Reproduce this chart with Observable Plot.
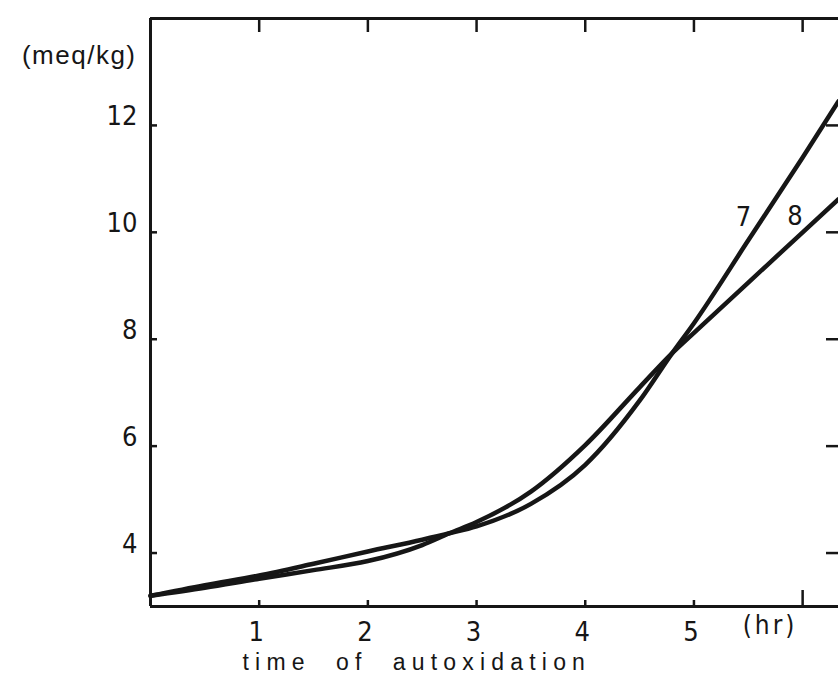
<!DOCTYPE html>
<html><head><meta charset="utf-8">
<script src="https://cdn.jsdelivr.net/npm/d3@7"></script>
<script src="https://cdn.jsdelivr.net/npm/@observablehq/plot@0.6"></script>
<style>
html,body{margin:0;padding:0;background:#fff;overflow:hidden;}
</style></head><body><div id="chart"></div>
<script>
// time of autoxidation (hr)
const hours   = [0, 0.5, 1, 1.5, 2, 2.5, 2.75, 3, 3.5, 4, 4.5, 4.8, 5, 5.5, 6, 6.33];
// curve 7 (meq/kg)
const curve7  = [3.2, 3.4, 3.58, 3.8, 4.03, 4.25, 4.37, 4.5, 4.92, 5.65, 6.85, 7.74, 8.3, 9.85, 11.4, 12.45];
// curve 8 (meq/kg)
const curve8  = [3.2, 3.35, 3.52, 3.68, 3.85, 4.15, 4.37, 4.58, 5.15, 6.02, 7.1, 7.74, 8.12, 9.06, 10.0, 10.62];
const seriesNames = ["7", "8"];
const seriesLabelX = [5.455, 5.93];
const seriesLabelY = [10.28, 10.3];

const xTicks = [1, 2, 3, 4, 5];
const xTickLabels = ["1", "2", "3", "4", "5"];
const topTicks = [1, 2, 3, 4, 5, 6];
const longTick = [6];
const yTicks = [4, 6, 8, 10, 12];
const yTickLabels = ["4", "6", "8", "10", "12"];
const xUnitLabel = "(hr)";
const xUnitLabelX = 5.7;
const yUnitLabel = "(meq/kg)";
const xTitle = "time  of  autoxidation";
const xTitleX = 2.45;

const rows = [];
hours.forEach((h, i) => {
  rows.push({series: "7", t: h, v: curve7[i]});
  rows.push({series: "8", t: h, v: curve8[i]});
});

const ink = "#161616";
const numFont = '"Liberation Sans Narrow","DejaVu Sans Condensed","Liberation Sans",sans-serif';
const txtFont = '"Liberation Sans","DejaVu Sans",sans-serif';

const chart = Plot.plot({
  width: 838,
  height: 677,
  marginLeft: 150,
  marginRight: 0,
  marginTop: 18,
  marginBottom: 71,
  x: {domain: [0, 6.33]},
  y: {domain: [3, 14]},
  style: {fontFamily: numFont, fontSize: "27px", color: ink, background: "#fff", overflow: "visible"},
  marks: [
    Plot.ruleX([0], {stroke: ink, strokeWidth: 3}),
    Plot.ruleY([3, 14], {stroke: ink, strokeWidth: 3}),
    // inward ticks
    Plot.axisY(yTicks, {anchor: "left", tickSize: -7, tickFormat: () => "", label: null, stroke: ink, strokeWidth: 2.5}),
    Plot.axisY(yTicks, {anchor: "right", tickSize: -13, tickFormat: () => "", label: null, stroke: ink, strokeWidth: 2.5}),
    Plot.axisX(topTicks, {anchor: "top", tickSize: -13, tickFormat: () => "", label: null, stroke: ink, strokeWidth: 2.5}),
    Plot.axisX(xTicks, {anchor: "bottom", tickSize: -6, tickFormat: () => "", label: null, stroke: ink, strokeWidth: 2.5}),
    Plot.axisX(longTick, {anchor: "bottom", tickSize: -16, tickFormat: () => "", label: null, stroke: ink, strokeWidth: 2.5}),
    // tick labels
    Plot.axisY(yTicks, {anchor: "left", tickSize: 0, tickPadding: 13, dy: -9, label: null,
      tickFormat: d => yTickLabels[yTicks.indexOf(d)], fill: ink, fontSize: 27}),
    Plot.axisX(xTicks, {anchor: "bottom", tickSize: 0, tickPadding: 15, dx: -3, label: null,
      tickFormat: d => xTickLabels[xTicks.indexOf(d)], fill: ink, fontSize: 27}),
    // curves
    Plot.line(rows, {x: "t", y: "v", z: "series", curve: "monotone-x", stroke: ink, strokeWidth: 4.5, strokeLinejoin: "round"}),
    // series labels
    Plot.text(seriesNames, {x: (d, i) => seriesLabelX[i], y: (d, i) => seriesLabelY[i], text: d => d, fill: ink, fontSize: 27}),
    // unit labels
    Plot.text([xUnitLabel], {x: () => xUnitLabelX, frameAnchor: "bottom", dy: 27, text: d => d, fill: ink, fontSize: 26, fontFamily: numFont}),
    Plot.text([yUnitLabel], {frameAnchor: "top-left", dx: -14, dy: 27, textAnchor: "end", text: d => d, fill: ink, fontSize: 26, fontFamily: txtFont}),
    Plot.text([xTitle], {x: () => xTitleX, frameAnchor: "bottom", dy: 63, text: d => d, fill: ink, fontSize: 23, fontFamily: txtFont})
  ]
});

d3.select(chart).selectAll("text").each(function() {
  const t = this.textContent;
  if (t === xTitle) d3.select(this).attr("letter-spacing", "6.2px").style("white-space", "pre");
  if (t === yUnitLabel) d3.select(this).attr("letter-spacing", "1.5px");
  if (t === xUnitLabel) d3.select(this).attr("letter-spacing", "3px");
});

document.getElementById("chart").appendChild(chart);
</script>
</body></html>
